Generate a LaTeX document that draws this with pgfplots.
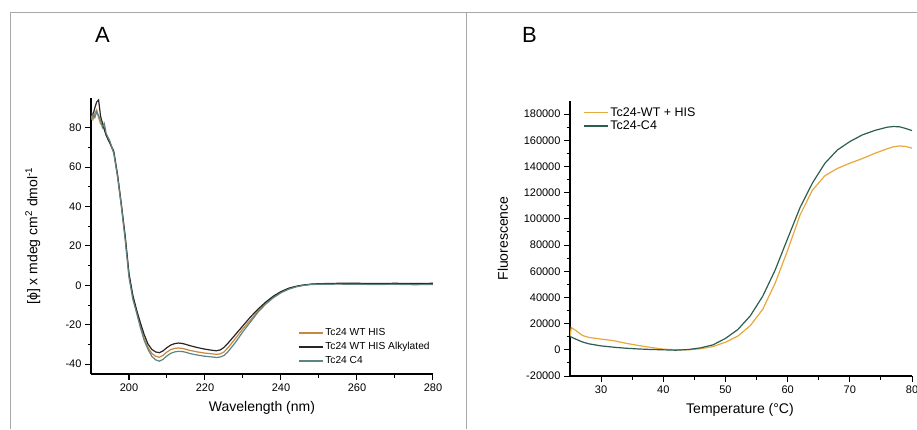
\documentclass[border=0pt]{standalone}
\usepackage{fontspec}
\setmainfont{Liberation Sans}
\usepackage{pgfplots}
\pgfplotsset{compat=1.18}

\definecolor{cdorange}{HTML}{C8873E}
\definecolor{cdblack}{HTML}{262626}
\definecolor{cdteal}{HTML}{5F8483}
\definecolor{wtyellow}{HTML}{E8A83A}
\definecolor{cfgreen}{HTML}{2C5E50}
\definecolor{framegray}{HTML}{A8A8A8}

\pgfplotsset{
    panel/.style={
        scale only axis,
        width  = 342pt,
        axis lines* = left,
        axis line style = {line width=1.1pt},
        tick align = outside,
        tick style = {black, line width=1pt},
        major tick length = 6pt,
        minor tick length = 3.5pt,
        minor tick num = 1,
        tick label style = {font=\fontsize{11}{13}\selectfont},
        label style = {font=\fontsize{14}{16}\selectfont},
        /pgf/number format/assume math mode=true,
        legend cell align = left,
        legend image code/.code={\draw[#1] (0pt,0pt) -- (24pt,0pt);},
    }
}

\begin{document}
\begin{tikzpicture}
    \path[use as bounding box] (0pt,0pt) rectangle (917pt,429pt);

    % frame
    \draw[framegray, line width=0.9pt] (10pt,0pt) -- (10pt,416.7pt) -- (917pt,416.7pt);
    \draw[framegray, line width=0.9pt] (466pt,0pt) -- (466pt,416.7pt);
    \node[font=\fontsize{22}{24}\selectfont, anchor=base] at (102.5pt,386pt) {A};
    \node[font=\fontsize{22}{24}\selectfont, anchor=base] at (529.5pt,386pt) {B};

    % Panel A: CD spectra
    \begin{axis}[
        panel,
        at = {(91pt,55pt)}, anchor = south west,
        height = 276pt,
        xmin = 190, xmax = 280,
        ymin = -45, ymax = 95,
        xtick = {200,220,240,260,280},
        ytick = {-40,-20,0,20,40,60,80},
        xlabel = {Wavelength (nm)},
        ylabel = {[ϕ] x mdeg cm\textsuperscript{2} dmol\textsuperscript{-1}},
        xlabel style = {at={(axis description cs:0.5,-0.123)}, anchor=center},
        ylabel style = {at={(axis description cs:-0.17,0.5)}, anchor=center},
        legend style = {
            draw = none, fill = none,
            at = {(axis description cs:0.605,0.172)}, anchor = north west,
            inner sep = 0pt, row sep = 1.2pt,
            font = \fontsize{10.2}{12}\selectfont
        },
    ]
        % Tc24 WT HIS
        \addplot[cdorange, line width=1.2pt] coordinates {
            (190,86) (190.5,84) (191,87) (191.5,89) (192,85) (192.5,82) (193,83)
            (193.5,80) (194,76) (195,72) (196,67) (197,55) (198,40) (199,24)
            (200,5) (201,-6) (202,-13.5) (203,-20.5) (204,-27) (205,-31.5)
            (206,-34.5) (207,-36) (208,-36.5) (209,-35.5) (210,-33.8) (211,-32.6)
            (212,-32) (213,-31.8) (214,-32) (215,-32.5) (216,-33) (218,-33.8)
            (220,-34.4) (222,-34.8) (223,-35) (224,-34.8) (225,-33.8) (226,-31.8)
            (228,-27) (230,-22) (232,-17.5) (234,-13) (236,-9.3) (238,-6)
            (240,-3.5) (242,-1.7) (244,-0.6) (246,0) (248,0.5) (250,0.6)
            (255,0.8) (260,0.9) (265,0.7) (270,0.8) (275,0.6) (280,0.7)
        };
        % Tc24 WT HIS Alkylated
        \addplot[cdblack, line width=1.2pt] coordinates {
            (190,88) (190.5,86) (191,90) (191.5,93) (192,94) (192.5,86) (193,82)
            (193.5,79) (194,76) (195,72) (196,68) (197,56) (198,41) (199,25)
            (200,6) (201,-5) (202,-12.5) (203,-19) (204,-25) (205,-29.8)
            (206,-32.5) (207,-33.8) (208,-34.2) (209,-33.2) (210,-31.6) (211,-30.3)
            (212,-29.6) (213,-29.3) (214,-29.5) (215,-30) (216,-30.6) (218,-31.6)
            (220,-32.4) (222,-33) (223,-33.2) (224,-32.8) (225,-31.5) (226,-29.5)
            (228,-25) (230,-20.5) (232,-16) (234,-12) (236,-8.5) (238,-5.5)
            (240,-3.2) (242,-1.5) (244,-0.5) (246,0.2) (248,0.6) (250,0.8)
            (255,1) (260,1) (265,0.9) (270,1) (275,0.9) (280,1)
        };
        % Tc24 C4
        \addplot[cdteal, line width=1.2pt] coordinates {
            (190,84) (190.5,87) (191,85) (191.5,88) (192,86) (192.5,84) (193,80)
            (193.5,82) (194,77) (195,73) (196,67) (197,55) (198,40) (199,23)
            (200,4) (201,-7) (202,-14) (203,-21.5) (204,-28) (205,-32.5)
            (206,-36) (207,-37.8) (208,-38.5) (209,-37.5) (210,-35.8) (211,-34.5)
            (212,-33.8) (213,-33.5) (214,-33.6) (215,-34) (216,-34.6) (218,-35.4)
            (220,-36) (222,-36.4) (223,-36.6) (224,-36.4) (225,-35.6) (226,-33.8)
            (228,-29) (230,-23.5) (232,-18.5) (234,-13.5) (236,-9.5) (238,-6.3)
            (240,-3.8) (242,-2) (244,-0.8) (246,0) (248,0.4) (250,0.5)
            (255,0.6) (260,0.5) (265,0.4) (270,0.5) (275,0.3) (280,0.4)
        };
        \legend{Tc24 WT HIS, Tc24 WT HIS Alkylated, Tc24 C4}
    \end{axis}

    % Panel B: thermal shift
    \begin{axis}[
        panel,
        at = {(570pt,53pt)}, anchor = south west,
        height = 275pt,
        xmin = 25, xmax = 80,
        ymin = -20000, ymax = 190000,
        xtick = {30,40,50,60,70,80},
        ytick = {-20000,0,20000,40000,60000,80000,100000,120000,140000,160000,180000},
        scaled y ticks = false,
        yticklabel style = {/pgf/number format/.cd, fixed, 1000 sep={}},
        xlabel = {Temperature (°C)},
        ylabel = {Fluorescence},
        xlabel style = {at={(axis description cs:0.497,-0.124)}, anchor=center},
        ylabel style = {at={(axis description cs:-0.196,0.5)}, anchor=center},
        legend style = {
            draw = none, fill = none,
            at = {(axis description cs:0.038,0.984)}, anchor = north west,
            inner sep = 0pt, row sep = -1pt,
            font = \fontsize{12.5}{14}\selectfont
        },
    ]
        % Tc24-WT + HIS
        \addplot[wtyellow, line width=1.2pt] coordinates {
            (25,9500) (25.2,17000) (26,14500) (27,11000) (28,9500) (30,8200)
            (32,7000) (34,5000) (36,3300) (38,1800) (40,500) (42,0) (44,0)
            (46,800) (48,2500) (50,5800) (52,10500) (54,18500) (56,31000)
            (58,51000) (60,76000) (62,103000) (64,122000) (66,133000)
            (68,138500) (70,142500) (72,146000) (74,150000) (76,153500)
            (77,155000) (78,155700) (79,155300) (80,154000)
        };
        % Tc24-C4
        \addplot[cfgreen, line width=1.2pt] coordinates {
            (25,10200) (26,8000) (27,6000) (28,4600) (30,3000) (32,2000)
            (34,1200) (36,650) (38,250) (40,0) (42,-300) (44,200) (46,1500)
            (48,3800) (50,8700) (52,15500) (54,26000) (56,41000) (58,61000)
            (60,85000) (62,108700) (64,127500) (66,142500) (68,152600)
            (70,159000) (72,164100) (74,167500) (76,170000) (77,170500)
            (78,170300) (79,169000) (80,167400)
        };
        \legend{Tc24-WT + HIS, Tc24-C4}
    \end{axis}
\end{tikzpicture}
\end{document}
